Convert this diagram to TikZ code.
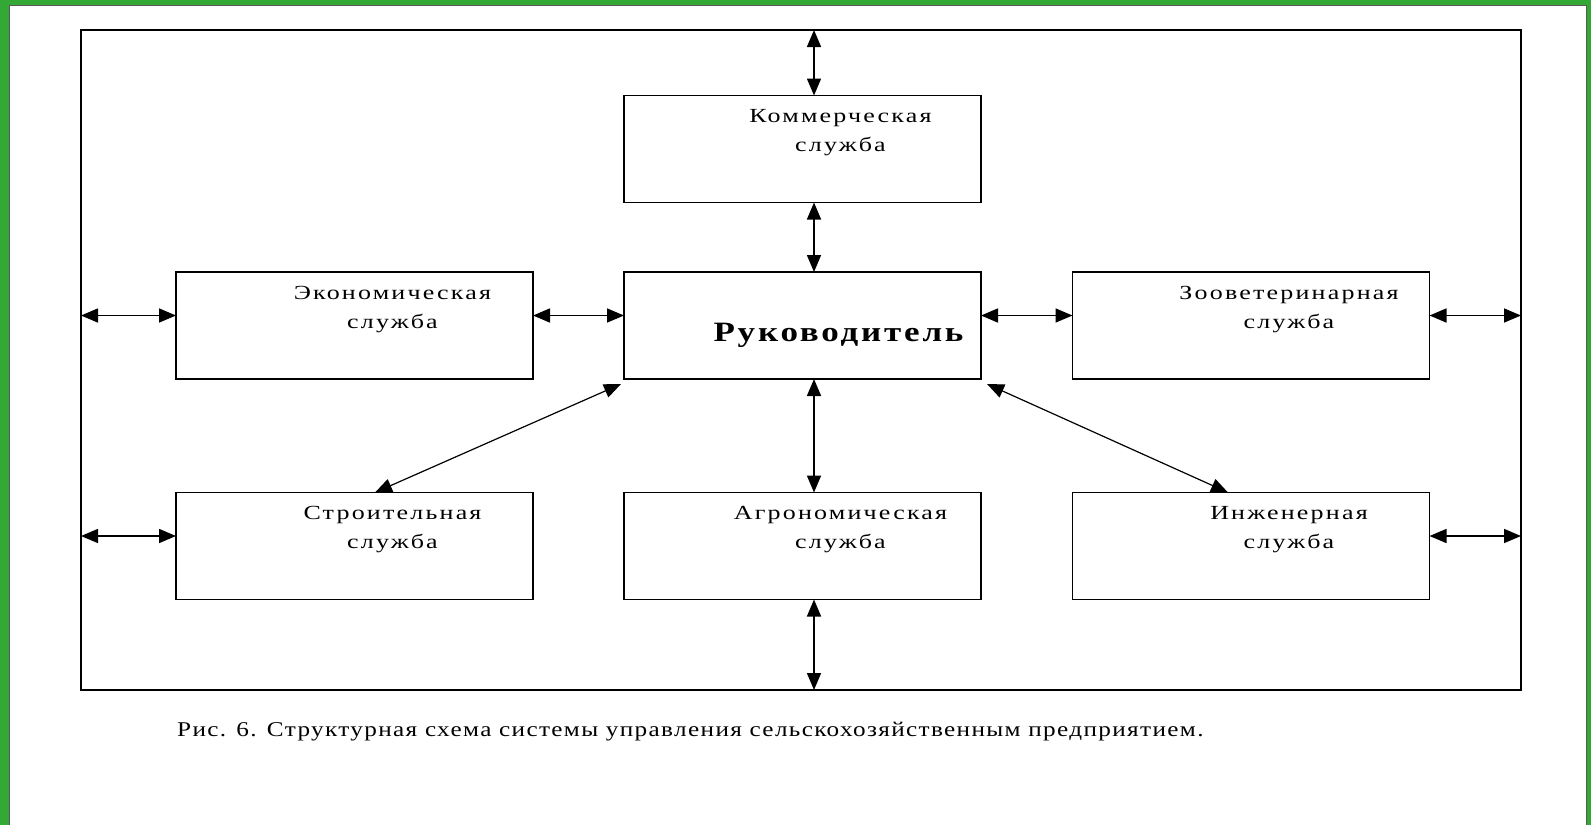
\documentclass[tikz,border=0pt]{standalone}
\usepackage{fontspec}
\setmainfont{Liberation Serif}
\newfontfamily\lblfont[FakeStretch=1.3,LetterSpace=11]{Liberation Serif}
\newfontfamily\headfont[FakeStretch=1.25,LetterSpace=10]{Liberation Serif}
\newfontfamily\capfont[FakeStretch=1.2,LetterSpace=6.5]{Liberation Serif}
\usetikzlibrary{arrows.meta,calc}
\definecolor{edgegreen}{RGB}{52,168,52}
\begin{document}
\begin{tikzpicture}[x=1pt,y=-1pt,
  box/.style={draw, line width=1.6pt, minimum width=357pt, minimum height=107pt,
    inner sep=0pt, outer sep=0pt},
  lbl/.style={font=\lblfont\fontsize{20}{29}\selectfont, align=center, inner sep=0pt},
  dbl/.style={line width=1.6pt,
    {Triangle[length=17pt,width=14pt]}-{Triangle[length=17pt,width=14pt]}},
]
\useasboundingbox (0,0) rectangle (1591,825);

% green page edge
\fill[edgegreen] (0,0) rectangle (9,825);
\fill[edgegreen] (0,0) rectangle (1591,5);
\fill[edgegreen] (1587,0) rectangle (1591,825);
\draw[black!65, line width=1pt] (9.5,825) -- (9.5,5.5) -- (1586.5,5.5) -- (1586.5,825);

% outer frame
\node[draw, line width=1.6pt, minimum width=1440pt, minimum height=660pt,
  inner sep=0pt, outer sep=0pt] (frame) at (801,360) {};

% service boxes
\node[box] (kom) at (802.5,149) {};
\node[box] (ruk) at (802.5,325.5) {};
\node[box] (eko) at (354.5,325.5) {};
\node[box] (zoo) at (1251,325.5) {};
\node[box] (str) at (354.5,546) {};
\node[box] (agr) at (802.5,546) {};
\node[box] (inz) at (1251,546) {};

% box texts
\node[lbl] (kom-t) at ($(kom.north)+(38,37.5)$) {Коммерческая\\служба};
\node[lbl] (eko-t) at ($(eko.north)+(38,37.5)$) {Экономическая\\служба};
\node[lbl] (zoo-t) at ($(zoo.north)+(38,37.5)$) {Зооветеринарная\\служба};
\node[lbl] (str-t) at ($(str.north)+(38,37.5)$) {Строительная\\служба};
\node[lbl] (agr-t) at ($(agr.north)+(38,37.5)$) {Агрономическая\\служба};
\node[lbl] (inz-t) at ($(inz.north)+(38,37.5)$) {Инженерная\\служба};
\node[font=\headfont\bfseries\fontsize{28}{30}\selectfont, inner sep=0pt]
  (ruk-t) at ($(ruk.center)+(36,9.5)$) {Руководитель};

% vertical links
\draw[dbl] ([xshift=11.5pt]kom.north) -- ([xshift=11.5pt]kom.north |- frame.north);
\draw[dbl] ([xshift=11.5pt]kom.south) -- ([xshift=11.5pt]ruk.north);
\draw[dbl] ([xshift=11.5pt]ruk.south) -- ([xshift=11.5pt]agr.north);
\draw[dbl] ([xshift=11.5pt]agr.south) -- ([xshift=11.5pt]agr.south |- frame.south);

% horizontal links
\draw[dbl] ([yshift=10pt]eko.west) -- ([yshift=10pt]eko.west -| frame.west);
\draw[dbl] ([yshift=10pt]eko.east) -- ([yshift=10pt]ruk.west);
\draw[dbl] ([yshift=10pt]ruk.east) -- ([yshift=10pt]zoo.west);
\draw[dbl] ([yshift=10pt]zoo.east) -- ([yshift=10pt]zoo.east -| frame.east);
\draw[dbl] ([yshift=10pt]str.west) -- ([yshift=10pt]str.west -| frame.west);
\draw[dbl] ([yshift=10pt]inz.east) -- ([yshift=10pt]inz.east -| frame.east);

% diagonal links
\draw[dbl, line width=1.2pt] ([shift={(-3pt,-5pt)}]ruk.south west) -- ([xshift=20.5pt]str.north);
\draw[dbl, line width=1.2pt] ([shift={(6pt,-5pt)}]ruk.south east) -- ([xshift=-23pt]inz.north);

% caption
\node[anchor=west, font=\capfont\fontsize{21}{23}\selectfont, inner sep=0pt]
  (cap) at (177,732) {Рис. 6. Структурная схема системы управления сельскохозяйственным предприятием.};
\end{tikzpicture}
\end{document}
